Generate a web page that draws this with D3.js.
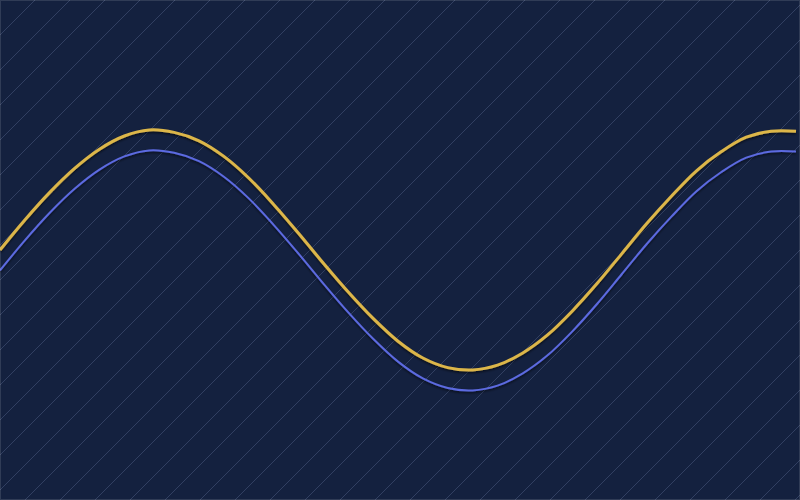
<!DOCTYPE html>
<html>
<head>
<meta charset="utf-8">
<script src="https://cdn.jsdelivr.net/npm/d3@7"></script>
<style>
  html, body { margin: 0; padding: 0; background: #14213f; }
  svg { display: block; }
</style>
</head>
<body>
<svg id="chart"></svg>
<script>
// values
let xs = [0, 0.25, 0.5, 0.75, 1, 1.25, 1.5, 1.75, 2, 2.25, 2.5, 2.75, 3, 3.25, 3.5, 3.75,
          4, 4.25, 4.5, 4.75, 5, 5.25, 5.5, 5.75, 6, 6.25, 6.5, 6.75, 7, 7.25, 7.5, 7.75, 8]

let goldValues = [0.00, 0.25, 0.48, 0.68, 0.84, 0.95, 1.00, 0.98, 0.91, 0.78, 0.60, 0.38, 0.14,
                  -0.11, -0.35, -0.57, -0.76, -0.90, -0.98, -1.00, -0.96, -0.86, -0.71, -0.51,
                  -0.28, -0.03, 0.22, 0.45, 0.66, 0.82, 0.94, 0.99, 0.99]

let blueValues = [-0.17, 0.08, 0.31, 0.51, 0.67, 0.78, 0.83, 0.81, 0.74, 0.61, 0.43, 0.21, -0.03,
                  -0.28, -0.52, -0.74, -0.93, -1.07, -1.15, -1.17, -1.13, -1.03, -0.88, -0.68,
                  -0.45, -0.20, 0.05, 0.28, 0.49, 0.65, 0.77, 0.82, 0.82]

let width = 800;
let height = 500;

const svg = d3.select('#chart')
    .attr('width', width)
    .attr('height', height)

const defs = svg.append('defs')

// diagonal hatching
defs.append('pattern')
    .attr('id', 'hatch')
    .attr('patternUnits', 'userSpaceOnUse')
    .attr('width', 35)
    .attr('height', 35)
    .append('path')
    .attr('d', 'M-5,5 L5,-5 M0,35 L35,0 M30,40 L40,30')
    .attr('stroke', 'rgba(150,170,220,0.28)')
    .attr('stroke-width', 0.8)

defs.append('filter')
    .attr('id', 'shadow')
    .attr('x', '-5%').attr('y', '-20%')
    .attr('width', '110%').attr('height', '140%')
    .append('feDropShadow')
    .attr('dx', 0)
    .attr('dy', 1.5)
    .attr('stdDeviation', 0.8)
    .attr('flood-color', '#000')
    .attr('flood-opacity', 0.6)

svg.append('rect')
    .attr('width', width)
    .attr('height', height)
    .attr('fill', '#14213f')

svg.append('rect')
    .attr('width', width)
    .attr('height', height)
    .attr('fill', 'url(#hatch)')

let x = d3.scaleLinear().domain([0, 8]).range([0, 796])
let y = d3.scaleLinear().domain([-2, 2]).range([490, 10])

let line = d3.line()
    .x(d => x(d[0]))
    .y(d => y(d[1]))
    .curve(d3.curveCatmullRom)

svg.append('path')
    .datum(xs.map((v, i) => [v, blueValues[i]]))
    .attr('d', line)
    .attr('fill', 'none')
    .attr('stroke', '#5c6ae0')
    .attr('stroke-width', 2)
    .attr('filter', 'url(#shadow)')

svg.append('path')
    .datum(xs.map((v, i) => [v, goldValues[i]]))
    .attr('d', line)
    .attr('fill', 'none')
    .attr('stroke', '#dcb64a')
    .attr('stroke-width', 3)
    .attr('filter', 'url(#shadow)')

// thin frame
svg.append('rect')
    .attr('x', 0.5).attr('y', 0.5)
    .attr('width', width - 1)
    .attr('height', height - 1)
    .attr('fill', 'none')
    .attr('stroke', 'rgba(255,255,255,0.12)')
</script>
</body>
</html>
